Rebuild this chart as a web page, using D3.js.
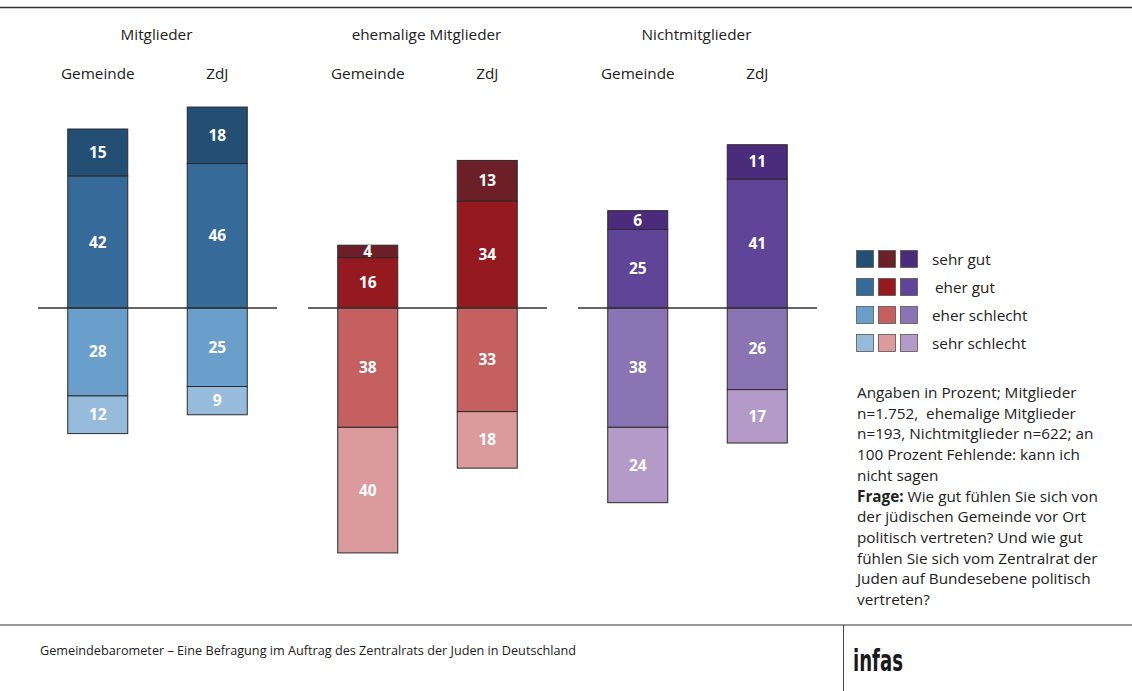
<!DOCTYPE html>
<html><head><meta charset="utf-8">
<script src="https://cdn.jsdelivr.net/npm/d3@7"></script>
<style>
body{margin:0;background:#fff;}
svg{display:block;font-family:"Open Sans","Noto Sans",sans-serif;}
</style></head>
<body>
<svg id="chart" width="1132" height="691"></svg>
<script>
const groups = ["Mitglieder", "ehemalige Mitglieder", "Nichtmitglieder"];
const institutions = ["Gemeinde", "ZdJ"];
const categories = ["sehr gut", "eher gut", "eher schlecht", "sehr schlecht"];
// values per group: [Gemeinde, ZdJ], each [sehr gut, eher gut, eher schlecht, sehr schlecht]
const mitglieder = [[15, 42, 28, 12], [18, 46, 25, 9]];
const ehemalige = [[4, 16, 38, 40], [13, 34, 33, 18]];
const nichtmitglieder = [[6, 25, 38, 24], [11, 41, 26, 17]];
const blues = ["#234f75", "#366a98", "#6a9fcb", "#97bcdb"];
const reds = ["#6c1f27", "#941a20", "#c56060", "#db9a9b"];
const purples = ["#4a2b7c", "#5f4498", "#8b74b3", "#b39ac9"];
const noteLines = [
  [["", "Angaben in Prozent; Mitglieder"]],
  [["", "n=1.752,\u00a0 ehemalige Mitglieder"]],
  [["", "n=193, Nichtmitglieder n=622; an"]],
  [["", "100 Prozent Fehlende: kann ich"]],
  [["", "nicht sagen"]],
  [["b", "Frage:"], ["", " Wie gut fühlen Sie sich von"]],
  [["", "der jüdischen Gemeinde vor Ort"]],
  [["", "politisch vertreten? Und wie gut"]],
  [["", "fühlen Sie sich vom Zentralrat der"]],
  [["", "Juden auf Bundesebene politisch"]],
  [["", "vertreten?"]]
];
const footerText = "Gemeindebarometer – Eine Befragung im Auftrag des Zentralrats der Juden in Deutschland";

const data = [mitglieder, ehemalige, nichtmitglieder];
const palettes = [blues, reds, purples];

const svg = d3.select("#chart");
const W = 1132, H = 691;
const FS = 15.3;

// frame lines
svg.append("line").attr("x1", 0).attr("x2", W).attr("y1", 7.5).attr("y2", 7.5)
  .attr("stroke", "#333").attr("stroke-width", 1.5);
svg.append("line").attr("x1", 0).attr("x2", W).attr("y1", 625).attr("y2", 625)
  .attr("stroke", "#777").attr("stroke-width", 1.5);
svg.append("line").attr("x1", 843.5).attr("x2", 843.5).attr("y1", 625).attr("y2", H)
  .attr("stroke", "#444").attr("stroke-width", 1);

// scales
const y = d3.scaleLinear().domain([-80, 80]).range([308 + 80 * 3.14, 308 - 80 * 3.14]);
const xGroup = d3.scaleBand().domain(groups).range([38, 817]).paddingInner(3 - 779 / 270);
const xInst = d3.scalePoint().domain(institutions).range([0, xGroup.bandwidth()]).padding(0.5);
const barW = 60;

groups.forEach((g, gi) => {
  const gx = xGroup(g);
  const G = svg.append("g").attr("transform", `translate(${gx},0)`);
  G.append("text").attr("x", xGroup.bandwidth() / 2 - 1).attr("y", 40).attr("text-anchor", "middle")
    .attr("font-size", FS).attr("fill", "#222").text(g);
  institutions.forEach((inst, ii) => {
    const cx = xInst(inst);
    G.append("text").attr("x", cx).attr("y", 79).attr("text-anchor", "middle")
      .attr("font-size", FS).attr("fill", "#222").text(inst);
    const vals = data[gi][ii];
    const segs = [
      {v: vals[0], y0: vals[1], y1: vals[1] + vals[0], c: 0},
      {v: vals[1], y0: 0, y1: vals[1], c: 1},
      {v: vals[2], y0: -vals[2], y1: 0, c: 2},
      {v: vals[3], y0: -vals[2] - vals[3], y1: -vals[2], c: 3}
    ];
    segs.forEach(s => {
      G.append("rect").attr("x", cx - barW / 2).attr("width", barW)
        .attr("y", y(s.y1)).attr("height", y(s.y0) - y(s.y1))
        .attr("fill", palettes[gi][s.c]).attr("stroke", "#2a2a2a").attr("stroke-width", 1);
      G.append("text").attr("x", cx).attr("y", (y(s.y0) + y(s.y1)) / 2 + 5.5)
        .attr("text-anchor", "middle").attr("font-size", 15.5).attr("font-weight", "bold")
        .attr("fill", "#fff").text(s.v);
    });
  });
  // baseline
  G.append("line").attr("x1", 0).attr("x2", xGroup.bandwidth()).attr("y1", y(0)).attr("y2", y(0))
    .attr("stroke", "#333").attr("stroke-width", 1.3);
});

// legend
const leg = svg.append("g");
categories.forEach((c, i) => {
  const ly = 250.5 + i * 28;
  palettes.forEach((p, pi) => {
    leg.append("rect").attr("x", 856.5 + pi * 22).attr("y", ly).attr("width", 17).attr("height", 17)
      .attr("fill", p[i]).attr("stroke", "#555").attr("stroke-width", 0.8);
  });
  leg.append("text").attr("x", i === 1 ? 935 : 932).attr("y", ly + 14).attr("font-size", FS)
    .attr("fill", "#222").text(c);
});

// note
const note = svg.append("text").attr("font-size", FS).attr("fill", "#222");
noteLines.forEach((ln, i) => {
  const t = note.append("tspan").attr("x", 857).attr("y", 398 + i * 20.7);
  ln.forEach(([st, txt], k) => {
    const sp = k === 0 ? t : note.append("tspan");
    sp.text(txt).attr("font-weight", st === "b" ? "bold" : "normal");
  });
});

// footer
svg.append("text").attr("x", 40).attr("y", 655).attr("font-size", 12)
  .attr("textLength", 536).attr("lengthAdjust", "spacingAndGlyphs")
  .attr("fill", "#222").text(footerText);
svg.append("text").attr("x", 853).attr("y", 671).attr("font-size", 31)
  .attr("font-family", "'DejaVu Sans Condensed','DejaVu Sans',sans-serif")
  .attr("font-weight", "bold")
  .attr("textLength", 50).attr("lengthAdjust", "spacingAndGlyphs")
  .attr("fill", "#1a1a1a").text("infas");
</script>
</body></html>
